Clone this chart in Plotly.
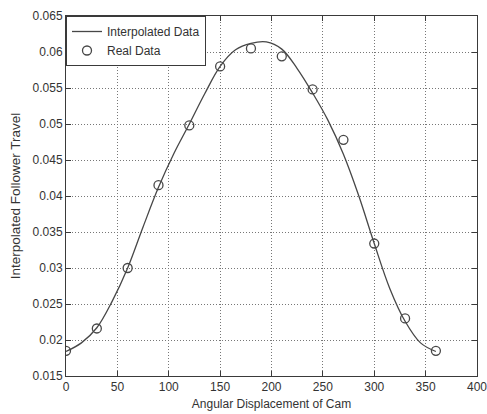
import plotly.graph_objects as go

# Real (measured) data points
real_angle = [0, 30, 60, 90, 120, 150, 180, 210, 240, 270, 300, 330, 360]
real_travel = [0.0185, 0.0216, 0.0300, 0.0415, 0.0498, 0.0580, 0.0605,
               0.0594, 0.0548, 0.0478, 0.0334, 0.0230, 0.0185]

# Interpolated curve
interp_angle = [0, 15, 30, 45, 60, 75, 90, 105, 120, 135, 150, 165, 180,
                195, 210, 225, 240, 255, 270, 285, 300, 315, 330, 345, 360]
interp_travel = [0.0184, 0.0196, 0.0217, 0.0254, 0.0300, 0.0357, 0.0412,
                 0.0459, 0.0500, 0.0542, 0.0580, 0.0603, 0.0612, 0.0614,
                 0.0604, 0.0577, 0.0543, 0.0505, 0.0458, 0.0400, 0.0334,
                 0.0272, 0.0226, 0.0196, 0.0184]

x_ticks = [0, 50, 100, 150, 200, 250, 300, 350, 400]
y_ticks = [0.015, 0.02, 0.025, 0.03, 0.035, 0.04, 0.045, 0.05, 0.055, 0.06, 0.065]
y_tick_labels = ["0.015", "0.02", "0.025", "0.03", "0.035", "0.04", "0.045",
                 "0.05", "0.055", "0.06", "0.065"]

FONT = "Liberation Sans, Arial, sans-serif"
INK = "#3a3a3a"

fig = go.Figure()
fig.add_trace(go.Scatter(
    x=interp_angle, y=interp_travel, mode="lines", name="Interpolated Data",
    line=dict(color="#474747", width=1.3, shape="spline", smoothing=1.0),
))
fig.add_trace(go.Scatter(
    x=real_angle, y=real_travel, mode="markers", name="Real Data",
    marker=dict(symbol="circle-open", size=9, color="#474747",
                line=dict(width=1.3, color="#474747")),
))

axis_common = dict(
    showline=True, linecolor=INK, linewidth=1, mirror="ticks",
    ticks="inside", ticklen=5, tickcolor=INK, tickwidth=1,
    showgrid=True, gridcolor="#777777", griddash="1px,2px", gridwidth=1,
    zeroline=False, automargin=False, ticklabeloverflow="allow",
    tickfont=dict(family=FONT, size=12, color="#333"),
)

fig.update_xaxes(
    range=[0, 400], tickvals=x_ticks,
    title=dict(text="Angular Displacement of Cam", standoff=6,
               font=dict(family=FONT, size=12, color="#333")),
    **axis_common,
)
fig.update_yaxes(
    range=[0.015, 0.065], tickvals=y_ticks, ticktext=y_tick_labels,
    title=dict(text="Interpolated Follower Travel", standoff=8,
               font=dict(family=FONT, size=13.5, color="#333")),
    **axis_common,
)

fig.update_layout(
    template="simple_white",
    width=487, height=414,
    margin=dict(l=66, r=10, t=16, b=38, autoexpand=False),
    paper_bgcolor="white", plot_bgcolor="white",
    font=dict(family=FONT, size=12, color="#333"),
    showlegend=True,
    legend=dict(x=0, y=1, xanchor="left", yanchor="top",
                bgcolor="white", bordercolor=INK, borderwidth=1,
                entrywidth=99, entrywidthmode="pixels",
                font=dict(family=FONT, size=12, color="#333"),
                tracegroupgap=0),
)

# Remove the page's default body margin so the figure fills the window.
fig.write_html(
    "out.html",
    config={"displayModeBar": False},
    post_script="document.body.style.margin='0';document.body.style.overflow='hidden';",
)
